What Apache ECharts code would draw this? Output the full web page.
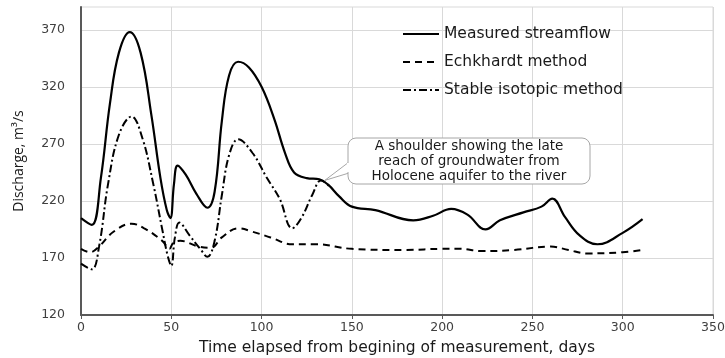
<!DOCTYPE html>
<html>
<head>
<meta charset="utf-8">
<script src="https://cdn.jsdelivr.net/npm/echarts@6/dist/echarts.min.js"></script>
<style>
  html, body { margin: 0; padding: 0; background: #fff; }
  #chart { width: 725px; height: 358px; }
</style>
</head>
<body>
<div id="chart"></div>
<script>
// days / discharge pairs
const measuredDays = [0, 6, 11, 16, 21, 27, 33, 39, 44, 47.5, 49.5, 51.5, 53.5, 58, 64, 70, 74, 78, 82, 87, 93, 100, 107, 113, 118, 125, 132, 137, 143, 150, 163, 184, 195, 205, 214, 224, 232, 245, 255, 261, 268, 276, 286, 300, 311]
const measuredQ = [205, 199, 240, 305, 350, 368, 350, 295, 240, 212, 205, 235, 251, 243, 226, 214, 228, 290, 330, 342, 337, 320, 292, 262, 245, 240, 239, 234, 224, 215, 212, 203, 207, 213, 208, 195, 203, 210, 215, 222, 206, 190, 182, 192, 204]

const eckhardtDays = [0, 5, 10, 18, 28, 35, 45, 49, 51, 55, 65, 72, 78, 87, 95, 105, 117, 130, 150, 180, 200, 210, 222, 240, 260, 270, 280, 300, 311]
const eckhardtQ = [178, 175, 180, 193, 200, 196, 185, 178, 183, 185, 180, 179, 188, 196, 193, 188, 182, 182, 178, 177, 178, 178, 176, 177, 180, 177, 174, 175, 177]

const isotopicDays = [0, 6, 10, 15, 21, 28, 34, 40, 45, 48, 50, 52, 54.5, 60, 66, 70, 74, 78, 82, 87, 95, 103, 110, 117, 122, 128, 133, 138]
const isotopicQ = [165, 160, 180, 235, 278, 294, 275, 235, 195, 172, 163, 188, 201, 190, 178, 171, 185, 225, 260, 274, 262, 240, 222, 196, 205, 225, 238, 232]

const yTicks = [120, 170, 220, 270, 320, 370]
const seriesNames = ['Measured streamflow', 'Echkhardt method', 'Stable isotopic method']

function pairs (xs, ys) {
  return xs.map((x, i) => [x, ys[i]])
}

const font = 'DejaVu Sans'
let myChart = echarts.init(document.getElementById('chart'), null, { renderer: 'canvas' })

let option = {
  animation: false,
  grid: {
    left: 81, right: 12, top: 7, bottom: 43,
    outerBoundsMode: 'none',
    show: true,
    borderColor: '#d9d9d9',
    borderWidth: 1
  },
  legend: {
    orient: 'vertical',
    left: 397, top: 21,
    itemWidth: 36, itemHeight: 16, itemGap: 12,
    itemStyle: { opacity: 0 },
    textStyle: { fontFamily: font, fontSize: 15.5, color: '#1a1a1a' },
    data: seriesNames
  },
  xAxis: {
    type: 'value',
    min: 0, max: 350, interval: 50,
    name: 'Time elapsed from begining of measurement, days',
    nameLocation: 'middle', nameGap: 25,
    nameTextStyle: { fontFamily: font, fontSize: 15.5, color: '#1a1a1a' },
    axisLine: { lineStyle: { color: '#595959', width: 2 } },
    axisTick: { show: true, length: 4, lineStyle: { color: '#595959' } },
    axisLabel: { fontFamily: font, fontSize: 12.5, color: '#404040', margin: 6 },
    splitLine: { show: true, lineStyle: { color: '#d9d9d9' } }
  },
  yAxis: {
    type: 'value',
    min: 120, max: 390,
    name: 'Discharge, m³/s',
    nameLocation: 'middle', nameGap: 55,
    nameTextStyle: { fontFamily: 'Open Sans', fontSize: 14, color: '#1a1a1a' },
    axisLine: { show: true, lineStyle: { color: '#595959', width: 2 } },
    axisTick: { show: false, customValues: yTicks },
    axisLabel: { fontFamily: font, fontSize: 12.5, color: '#404040', margin: 16, customValues: yTicks },
    splitLine: { show: true, lineStyle: { color: '#d9d9d9' } }
  },
  series: [
    {
      name: seriesNames[0], type: 'line', smooth: 0.4, symbol: 'none',
      lineStyle: { color: '#000', width: 2.2, type: 'solid' },
      itemStyle: { color: '#000' },
      data: pairs(measuredDays, measuredQ), z: 3
    },
    {
      name: seriesNames[1], type: 'line', smooth: 0.4, symbol: 'none',
      lineStyle: { color: '#000', width: 2, type: [7, 5] },
      itemStyle: { color: '#000' },
      data: pairs(eckhardtDays, eckhardtQ), z: 2
    },
    {
      name: seriesNames[2], type: 'line', smooth: 0.4, symbol: 'none',
      lineStyle: { color: '#000', width: 2, type: [8, 3, 2, 3] },
      itemStyle: { color: '#000' },
      data: pairs(isotopicDays, isotopicQ), z: 2
    }
  ]
}

myChart.setOption(option, true)

// callout box pointing to the shoulder on the measured curve
let tip = myChart.convertToPixel({ gridIndex: 0 }, [135, 238])
myChart.setOption({
  graphic: [
    {
      type: 'polygon', z: 10,
      shape: { points: [[349, 162], tip, [349, 173]] },
      style: { fill: '#fff', stroke: '#a6a6a6', lineWidth: 1 }
    },
    {
      type: 'rect', z: 11,
      shape: { x: 348, y: 138, width: 242, height: 46, r: 8 },
      style: { fill: '#fff', stroke: '#a6a6a6', lineWidth: 1 }
    },
    {
      type: 'rect', z: 12,
      shape: { x: 347, y: 163, width: 3, height: 9 },
      style: { fill: '#fff' }
    },
    {
      type: 'text', z: 13,
      x: 469, y: 139,
      style: {
        text: 'A shoulder showing the late\nreach of groundwater from\nHolocene aquifer to the river',
        align: 'center',
        fontFamily: font, fontSize: 13.5, lineHeight: 15, fill: '#1a1a1a'
      }
    }
  ]
})
</script>
</body>
</html>
